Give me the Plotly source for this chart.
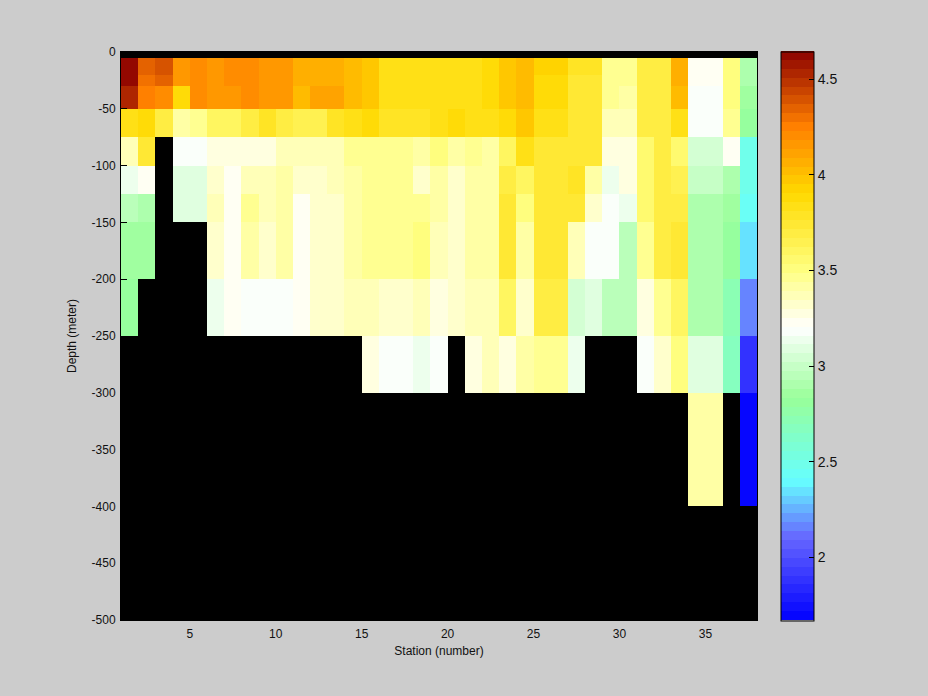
import plotly.graph_objects as go

nan = float("nan")

station_edges = list(range(1, 39))
depth_edges = [0, -5, -20, -30, -50, -75, -100, -125, -150, -200, -250, -300, -400, -500]

row_0_5 = [nan] * 37
row_5_20 = [4.62, 4.36, 4.40, 4.15, 4.20, 4.15, 4.20, 4.20, 4.15, 4.15, 4.08, 4.08, 4.08, 4.02, 3.98, 3.85, 3.85, 3.85, 3.85, 3.85, 3.85, 3.87, 3.95, 4.00, 3.92, 3.92, 3.80, 3.80, 3.47, 3.44, 3.67, 3.67, 4.07, 3.25, 3.25, 3.50, 2.90]
row_20_30 = [4.62, 4.28, 4.33, 4.15, 4.20, 4.15, 4.20, 4.20, 4.15, 4.15, 4.08, 4.08, 4.08, 4.02, 3.98, 3.85, 3.85, 3.85, 3.85, 3.85, 3.85, 3.87, 3.95, 4.00, 3.87, 3.87, 3.72, 3.72, 3.47, 3.44, 3.67, 3.67, 4.07, 3.25, 3.25, 3.50, 2.90]
row_30_50 = [4.55, 4.27, 4.20, 3.90, 4.20, 4.15, 4.15, 4.20, 4.15, 4.15, 4.02, 4.10, 4.10, 4.02, 3.98, 3.83, 3.83, 3.83, 3.83, 3.83, 3.83, 3.87, 3.95, 4.00, 3.87, 3.87, 3.72, 3.72, 3.47, 3.39, 3.67, 3.67, 4.03, 3.18, 3.18, 3.50, 2.85]
row_50_75 = [3.82, 3.90, 3.70, 3.42, 3.47, 3.60, 3.60, 3.68, 3.78, 3.67, 3.65, 3.65, 3.78, 3.82, 3.87, 3.80, 3.80, 3.80, 3.82, 3.88, 3.82, 3.82, 3.90, 3.96, 3.85, 3.85, 3.72, 3.72, 3.35, 3.35, 3.67, 3.67, 3.82, 3.18, 3.18, 3.47, 2.82]
row_75_100 = [3.35, 3.72, nan, 3.18, 3.18, 3.26, 3.26, 3.29, 3.29, 3.35, 3.35, 3.35, 3.37, 3.44, 3.47, 3.44, 3.44, 3.39, 3.49, 3.42, 3.47, 3.39, 3.60, 3.82, 3.75, 3.75, 3.72, 3.72, 3.28, 3.28, 3.56, 3.70, 3.56, 3.05, 3.05, 3.25, 2.47]
row_100_125 = [3.12, 3.25, nan, 3.10, 3.10, 3.32, 3.25, 3.37, 3.37, 3.39, 3.30, 3.30, 3.35, 3.42, 3.44, 3.44, 3.44, 3.34, 3.41, 3.34, 3.41, 3.41, 3.70, 3.60, 3.72, 3.72, 3.80, 3.42, 3.12, 3.29, 3.56, 3.68, 3.65, 3.00, 3.00, 2.90, 2.47]
row_125_150 = [2.97, 2.92, nan, 3.07, 3.07, 3.35, 3.25, 3.44, 3.37, 3.39, 3.25, 3.30, 3.32, 3.42, 3.44, 3.44, 3.44, 3.44, 3.41, 3.34, 3.41, 3.41, 3.72, 3.49, 3.72, 3.72, 3.75, 3.30, 3.18, 3.12, 3.56, 3.67, 3.70, 2.92, 2.92, 2.85, 2.42]
row_150_200 = [2.85, 2.85, nan, nan, nan, 3.32, 3.25, 3.39, 3.34, 3.39, 3.25, 3.30, 3.30, 3.39, 3.44, 3.44, 3.44, 3.49, 3.37, 3.30, 3.39, 3.39, 3.72, 3.39, 3.72, 3.72, 3.35, 3.18, 3.18, 2.97, 3.47, 3.70, 3.72, 2.88, 2.88, 2.82, 2.33]
row_200_250 = [2.82, nan, nan, nan, nan, 3.12, 3.25, 3.18, 3.18, 3.18, 3.25, 3.30, 3.30, 3.37, 3.37, 3.32, 3.32, 3.37, 3.28, 3.33, 3.35, 3.37, 3.60, 3.30, 3.68, 3.68, 3.03, 3.07, 2.97, 2.97, 3.26, 3.47, 3.60, 2.88, 2.88, 2.72, 2.15]
row_250_300 = [nan] * 14 + [3.28, 3.18, 3.18, 3.12, 3.18, nan, 3.26, 3.37, 3.26, 3.41, 3.47, 3.47, 3.12, nan, nan, nan, 3.18, 3.32, 3.49, 3.07, 3.07, 2.68, 1.86]
row_300_400 = [nan] * 33 + [3.39, 3.39, nan, 1.68]
row_400_500 = [nan] * 37

salinity = [row_0_5, row_5_20, row_20_30, row_30_50, row_50_75, row_75_100, row_100_125,
            row_125_150, row_150_200, row_200_250, row_250_300, row_300_400, row_400_500]

x_ticks = [5, 10, 15, 20, 25, 30, 35]
y_ticks = [0, -50, -100, -150, -200, -250, -300, -350, -400, -450, -500]
bar_ticks = [2, 2.5, 3, 3.5, 4, 4.5]

z_min, z_max = 1.67, 4.645
n_levels = 64
stops = [(1.67, (0, 0, 255)), (2.1, (102, 102, 255)), (2.4, (102, 255, 255)),
         (2.83, (153, 255, 153)), (3.2, (255, 255, 255)), (3.5, (255, 255, 128)),
         (3.9, (255, 217, 0)), (4.25, (255, 128, 0)), (4.645, (140, 0, 0))]


def colour_at(v):
    for (v0, c0), (v1, c1) in zip(stops, stops[1:]):
        if v <= v1:
            t = (v - v0) / (v1 - v0)
            return "rgb(%d,%d,%d)" % tuple(round(a + (b - a) * t) for a, b in zip(c0, c1))
    return "rgb(%d,%d,%d)" % stops[-1][1]


colorscale = []
for i in range(n_levels):
    c = colour_at(z_min + (i + 0.5) / n_levels * (z_max - z_min))
    colorscale += [[i / n_levels, c], [(i + 1) / n_levels, c]]

axis_font = dict(family="Liberation Sans, Arial, sans-serif", size=12, color="#111111")
bar_font = dict(family="Liberation Sans, Arial, sans-serif", size=14, color="#111111")

fig = go.Figure()
fig.add_trace(go.Heatmap(
    x=station_edges, y=depth_edges, z=salinity,
    zmin=z_min, zmax=z_max, colorscale=colorscale, hoverongaps=False,
    colorbar=dict(
        x=1.0377, xanchor="left", xpad=0, y=0.5, yanchor="middle", ypad=0,
        len=1.002, lenmode="fraction", thickness=33, thicknessmode="pixels",
        outlinecolor="black", outlinewidth=1, borderwidth=0,
        tickmode="array", tickvals=bar_ticks, ticktext=[str(t) for t in bar_ticks],
        ticks="inside", ticklen=5, tickcolor="black", tickwidth=1, tickfont=bar_font,
    ),
))
fig.update_layout(
    width=928, height=696, autosize=False,
    margin=dict(l=121, r=171, t=52, b=76, pad=0),
    paper_bgcolor="#cccccc", plot_bgcolor="black", font=axis_font,
    xaxis=dict(range=[1, 38], tickmode="array", tickvals=x_ticks, ticktext=[str(t) for t in x_ticks],
               ticks="inside", ticklen=6, tickcolor="black", showgrid=False, zeroline=False,
               showline=True, linecolor="black", mirror=True, tickfont=axis_font, ticklabelstandoff=3,
               title=dict(text="Station (number)", font=axis_font, standoff=6)),
    yaxis=dict(range=[-500, 0], tickmode="array", tickvals=y_ticks, ticktext=[str(t) for t in y_ticks],
               ticks="inside", ticklen=6, tickcolor="black", showgrid=False, zeroline=False,
               showline=True, linecolor="black", mirror=True, tickfont=axis_font, ticklabelstandoff=2,
               title=dict(text="Depth (meter)", font=axis_font, standoff=12)),
)
fig.write_html("out.html", config={"displayModeBar": False},
               post_script="document.body.style.margin='0';document.body.style.background='#cccccc';")
